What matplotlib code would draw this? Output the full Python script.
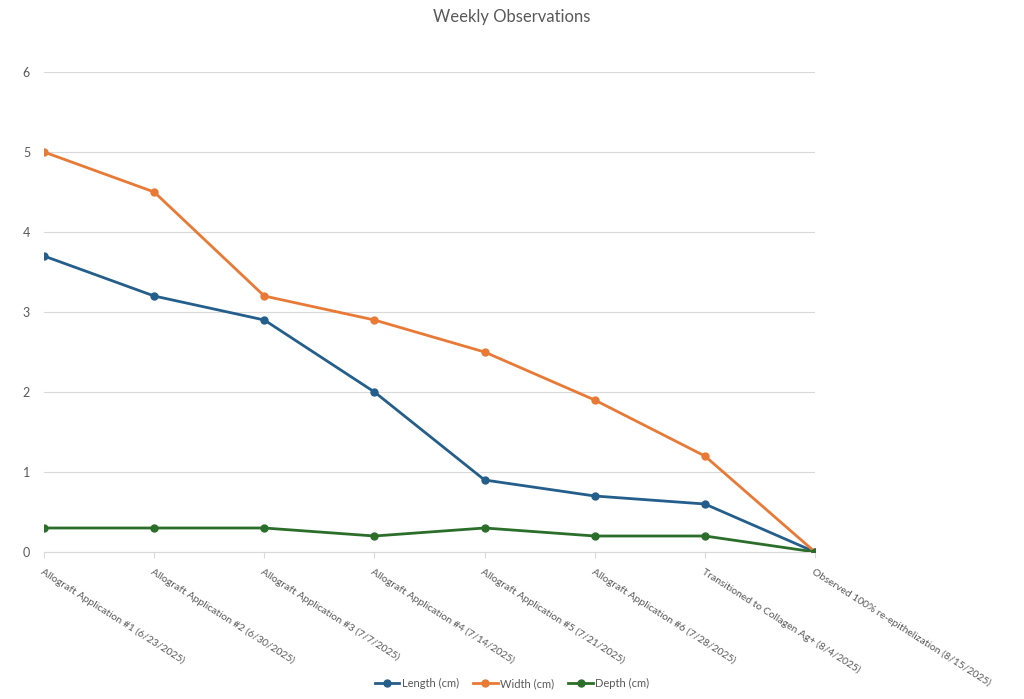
import matplotlib.pyplot as plt

plt.rcParams['font.family'] = ['Lato', 'DejaVu Sans']

categories = [
    "Allograft Application #1 (6/23/2025)",
    "Allograft Application #2 (6/30/2025)",
    "Allograft Application #3 (7/7/2025)",
    "Allograft Application #4 (7/14/2025)",
    "Allograft Application #5 (7/21/2025)",
    "Allograft Application #6 (7/28/2025)",
    "Transitioned to Collagen Ag+ (8/4/2025)",
    "Observed 100% re-epithelization (8/15/2025)",
]
length_cm = [3.7, 3.2, 2.9, 2.0, 0.9, 0.7, 0.6, 0.0]
width_cm = [5.0, 4.5, 3.2, 2.9, 2.5, 1.9, 1.2, 0.0]
depth_cm = [0.3, 0.3, 0.3, 0.2, 0.3, 0.2, 0.2, 0.0]

blue = "#245E8A"
orange = "#E97A36"
green = "#2B6E2A"
grey = "#595959"

fig = plt.figure(figsize=(10.24, 6.99), dpi=100)
ax = fig.add_axes([44 / 1024, 1 - 552 / 699, (815 - 44) / 1024, (552 - 72) / 699])

x = list(range(len(categories)))
ax.plot(x, length_cm, color=blue, lw=2, marker="o", ms=5, label="Length (cm)", zorder=3)
ax.plot(x, width_cm, color=orange, lw=2, marker="o", ms=5, label="Width (cm)", zorder=3)
ax.plot(x, depth_cm, color=green, lw=2, marker="o", ms=5, label="Depth (cm)", zorder=4)

ax.set_xlim(0, len(categories) - 1)
ax.set_ylim(0, 6)
ax.set_yticks(range(7))
ax.grid(axis="y", color="#D9D9D9", lw=0.8)
ax.set_axisbelow(True)
for s in ["top", "right", "left"]:
    ax.spines[s].set_visible(False)
ax.spines["bottom"].set_color("#D9D9D9")
ax.tick_params(axis="y", length=0, labelsize=9, labelcolor=grey, pad=10)
ax.tick_params(axis="x", length=4, color="#D9D9D9", labelsize=7.5, labelcolor=grey, pad=7)
ax.set_xticks(x)
ax.set_xticklabels(categories, rotation=-32.5, ha="left", va="top", rotation_mode="anchor")

fig.text(0.5, 1 - 17 / 699, "Weekly Observations", ha="center", va="center",
         fontsize=12, color=grey)

fig.legend(loc="lower center", ncol=3, frameon=False, fontsize=8,
           bbox_to_anchor=(0.5, 0.0), handlelength=2.2, columnspacing=1.3,
           labelcolor=grey, handletextpad=0.2)

fig.savefig("out.png", dpi=100)
